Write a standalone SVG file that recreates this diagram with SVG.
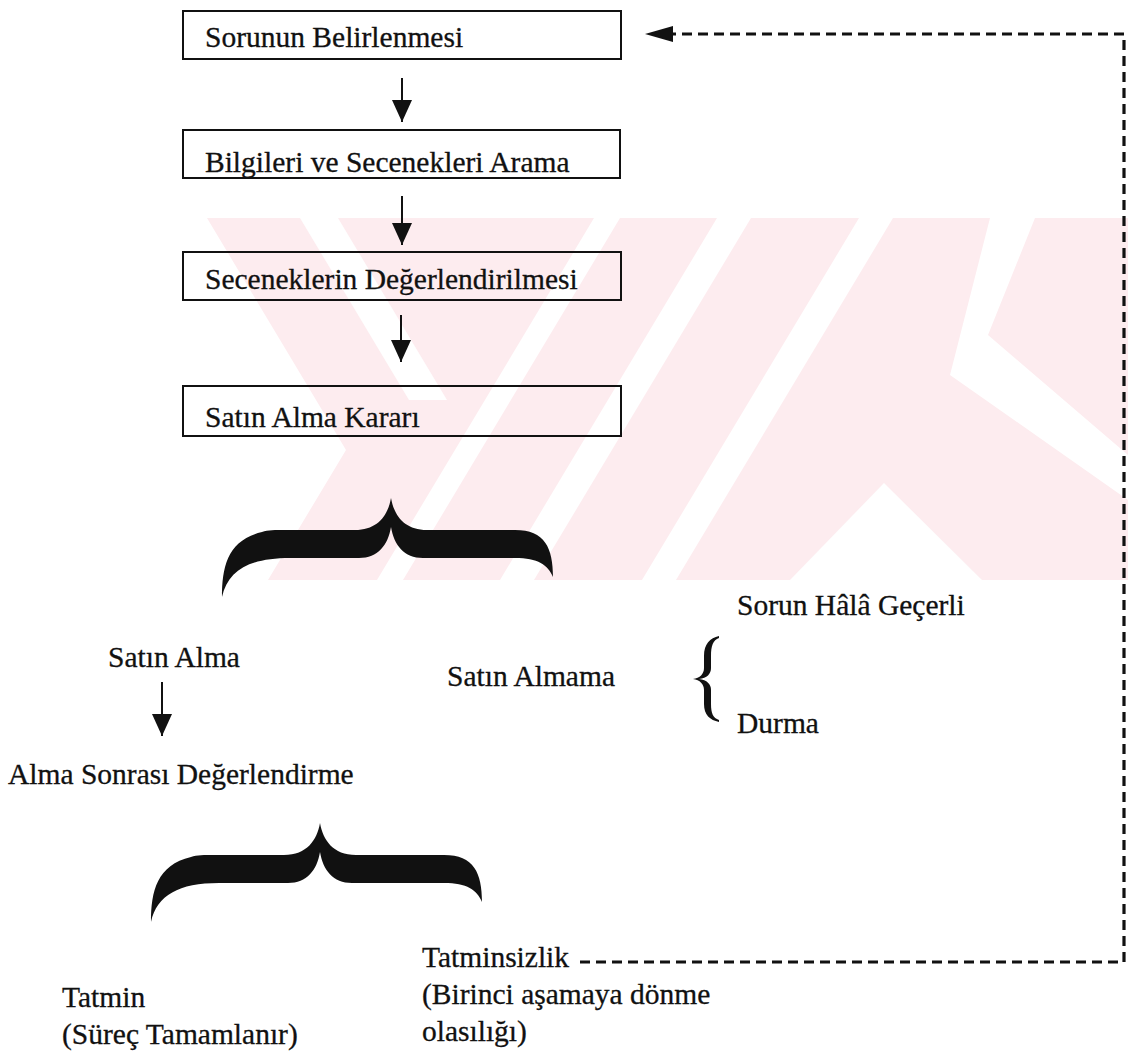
<svg xmlns="http://www.w3.org/2000/svg" xmlns:xlink="http://www.w3.org/1999/xlink" width="1128" height="1055" viewBox="0 0 1128 1055">
  <style>
    .lbl { font-family: "Liberation Serif", "Times New Roman", serif; font-size: 29.5px; fill: #111; stroke: #111; stroke-width: 0.3; }
    .box { fill: none; stroke: #111; stroke-width: 2; }
    .arrow { stroke: #111; stroke-width: 2; fill: none; }
    .dash { stroke: #111; stroke-width: 3.2; fill: none; stroke-dasharray: 10 6; }
    .brace { fill: #111; }
    .wm { fill: #fdecef; }
    .wm-gap { fill: #ffffff; }
  </style>
  <defs>
    <marker id="head" viewBox="0 0 22 20" refX="22" refY="10" markerWidth="22" markerHeight="20" markerUnits="userSpaceOnUse" orient="auto">
      <path d="M0,0 L22,10 L0,20 Z" fill="#111"/>
    </marker>
    <!-- wide horizontal curly brace, peak pointing up -->
    <path id="bigBrace" d="M 222 597 C 222 566, 228 540, 262 532 C 268 530, 275 530, 285 530 L 355 530 C 378 530, 388 515, 391 498 C 394 515, 404 530, 427 530 L 515 530 C 545 530, 553 548, 553 577 C 548 565, 538 558, 515 558 L 423 558 C 404 558, 394 545, 391 527 C 388 545, 378 558, 359 558 L 290 558 C 250 558, 228 570, 222 597 Z"/>
    <clipPath id="wmClip">
      <rect x="180" y="218" width="948" height="362"/>
    </clipPath>
  </defs>

  <rect width="1128" height="1055" fill="#ffffff"/>

  <!-- pale background emblem: crossed bands on the left, K-shaped bands on the right -->
  <g id="watermark" clip-path="url(#wmClip)">
    <polygon class="wm" points="207,218 1128,218 1128,580 268,580 346,450"/>
    <polygon class="wm-gap" points="300,218 338,218 447,400 409,400"/>
    <polygon class="wm-gap" points="594,218 620,218 403,580 377,580"/>
    <polygon class="wm-gap" points="717,218 751,218 534,580 500,580"/>
    <polygon class="wm-gap" points="859,218 893,218 676,580 642,580"/>
    <polygon class="wm-gap" points="990,218 1035,218 988,335 1128,455 1128,500 950,375"/>
    <polygon class="wm-gap" points="884,483 790,580 982,580"/>
  </g>

  <!-- connectors -->
  <g id="connectors">
    <line class="arrow" x1="402" y1="78" x2="402" y2="122" marker-end="url(#head)"/>
    <line class="arrow" x1="402" y1="196" x2="402" y2="245" marker-end="url(#head)"/>
    <line class="arrow" x1="401" y1="315" x2="401" y2="362" marker-end="url(#head)"/>
    <line class="arrow" x1="162" y1="682" x2="162" y2="736" marker-end="url(#head)"/>
    <path class="dash" d="M 580 962 H 1124 V 34 H 672"/>
    <path d="M 645 34 L 673 26 L 673 42 Z" fill="#111"/>
  </g>

  <g id="node-sorun">
    <rect class="box" x="183" y="11" width="438" height="48"/>
    <text class="lbl" x="205" y="47">Sorunun Belirlenmesi</text>
  </g>
  <g id="node-bilgi">
    <rect class="box" x="183" y="130" width="437" height="48"/>
    <text class="lbl" x="205" y="172">Bilgileri ve Secenekleri Arama</text>
  </g>
  <g id="node-degerlendirme">
    <rect class="box" x="183" y="252" width="438" height="48"/>
    <text class="lbl" x="205" y="289">Seceneklerin Değerlendirilmesi</text>
  </g>
  <g id="node-karar">
    <rect class="box" x="183" y="386" width="438" height="50"/>
    <text class="lbl" x="205" y="427">Satın Alma Kararı</text>
  </g>

  <g id="brace-karar">
    <use xlink:href="#bigBrace" class="brace"/>
  </g>

  <g id="node-satin-alma">
    <text class="lbl" x="108" y="667">Satın Alma</text>
  </g>
  <g id="node-satin-almama">
    <text class="lbl" x="447" y="686">Satın Almama</text>
  </g>
  <g id="brace-almama">
    <path class="brace" d="M 719 636 C 710 638, 704 644, 704 656 L 704 668 C 704 674, 700 678, 693 679 C 700 680, 704 684, 704 690 L 704 704 C 704 715, 710 720, 719 722 L 719 720 C 713 718, 711 713, 711 704 L 711 690 C 711 684, 707 680, 699 679 C 707 678, 711 674, 711 668 L 711 656 C 711 646, 713 640, 719 638 Z"/>
  </g>
  <g id="node-hala-gecerli">
    <text class="lbl" x="737" y="615">Sorun Hâlâ Geçerli</text>
  </g>
  <g id="node-durma">
    <text class="lbl" x="737" y="733">Durma</text>
  </g>

  <g id="node-sonrasi">
    <text class="lbl" x="8" y="784">Alma Sonrası Değerlendirme</text>
  </g>

  <g id="brace-sonrasi">
    <use xlink:href="#bigBrace" class="brace" transform="translate(-71,325)"/>
  </g>

  <g id="node-tatmin">
    <text class="lbl" x="62" y="1007">Tatmin</text>
    <text class="lbl" x="62" y="1044">(Süreç Tamamlanır)</text>
  </g>
  <g id="node-tatminsizlik">
    <text class="lbl" x="422" y="967">Tatminsizlik</text>
    <text class="lbl" x="422" y="1004">(Birinci aşamaya dönme</text>
    <text class="lbl" x="422" y="1041">olasılığı)</text>
  </g>
</svg>
